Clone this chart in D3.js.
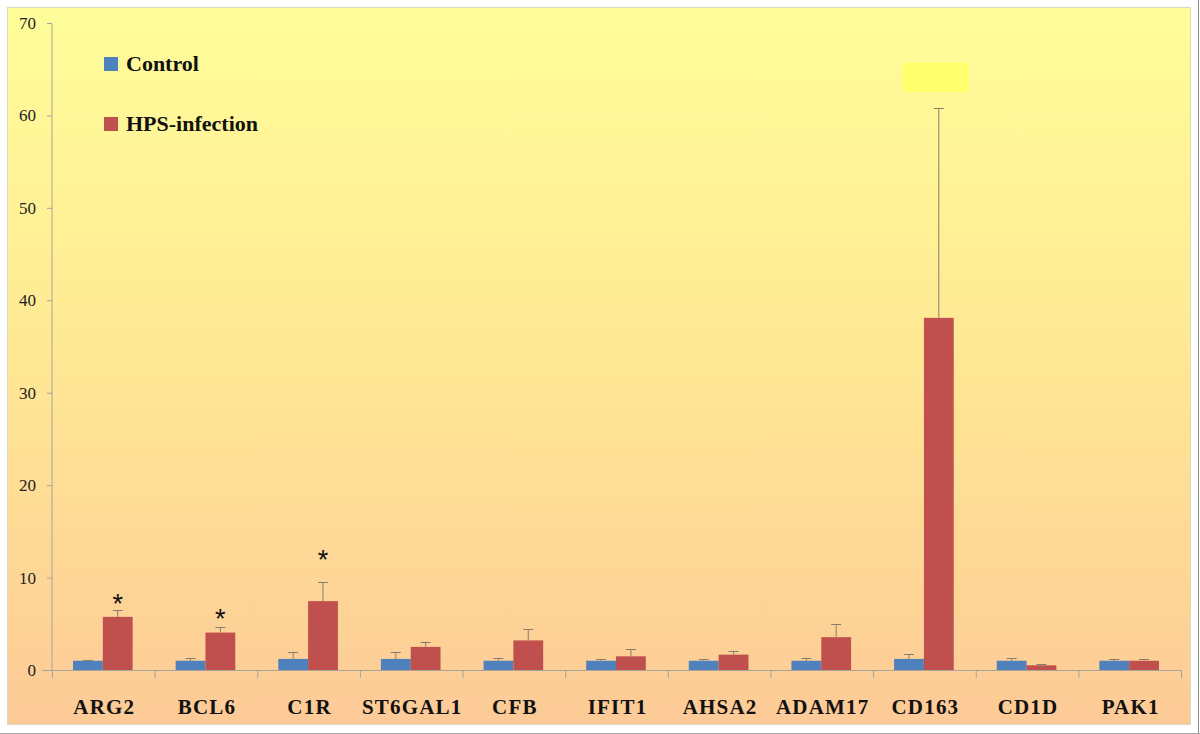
<!DOCTYPE html>
<html>
<head>
<meta charset="utf-8">
<script src="https://cdn.jsdelivr.net/npm/d3@7"></script>
<style>
  html, body { margin: 0; padding: 0; background: #ffffff; }
  svg { display: block; }
</style>
</head>
<body>
<div id="chart"></div>
<script>
// ── Data ─────────────────────────────────────────────────────────────────
const genes = ["ARG2", "BCL6", "C1R", "ST6GAL1", "CFB", "IFIT1", "AHSA2", "ADAM17", "CD163", "CD1D", "PAK1"];
const seriesNames = ["Control", "HPS-infection"];
const controlMean = [1.0, 1.0, 1.2, 1.2, 1.0, 1.0, 1.0, 1.0, 1.2, 1.0, 1.0];
const controlErr = [0.03, 0.3, 0.7, 0.7, 0.33, 0.2, 0.2, 0.33, 0.53, 0.3, 0.2];
const hpsMean = [5.75, 4.05, 7.45, 2.5, 3.2, 1.48, 1.66, 3.55, 38.1, 0.51, 1.0];
const hpsErr = [0.75, 0.55, 2.05, 0.56, 1.2, 0.8, 0.4, 1.4, 22.7, 0.14, 0.2];
// significance asterisks: gene and height (data units)
const sigGenes = ["ARG2", "BCL6", "C1R"];
const sigLevel = [7.6, 5.9, 12.3];
const yTicks = [0, 10, 20, 30, 40, 50, 60, 70];

// ── Dimensions ───────────────────────────────────────────────────────────
const W = 1200, H = 734;
const margin = { top: 23, right: 19, bottom: 64, left: 52 };
const plotW = W - margin.left - margin.right;
const plotH = H - margin.top - margin.bottom;

const svg = d3.select("#chart").append("svg")
  .attr("width", W).attr("height", H);

// ── Background ───────────────────────────────────────────────────────────
const defs = svg.append("defs");
const grad = defs.append("linearGradient")
  .attr("id", "bg").attr("x1", 0).attr("y1", 0).attr("x2", 0).attr("y2", 1);
grad.append("stop").attr("offset", "0%").attr("stop-color", "#fffd9a");
grad.append("stop").attr("offset", "45%").attr("stop-color", "#ffea94");
grad.append("stop").attr("offset", "100%").attr("stop-color", "#fdca97");

svg.append("rect")
  .attr("x", 7.5).attr("y", 7.5).attr("width", 1183).attr("height", 717)
  .attr("fill", "url(#bg)")
  .attr("stroke", "#dcd8bc").attr("stroke-width", 1);

svg.append("line")
  .attr("x1", 1198.5).attr("x2", 1198.5).attr("y1", 0).attr("y2", H)
  .attr("stroke", "#888").attr("stroke-width", 1);
svg.append("line")
  .attr("x1", 0).attr("x2", W).attr("y1", 733.5).attr("y2", 733.5)
  .attr("stroke", "#aaa").attr("stroke-width", 1);

const g = svg.append("g")
  .attr("transform", `translate(${margin.left},${margin.top})`);

// ── Scales ───────────────────────────────────────────────────────────────
const x = d3.scaleBand().domain(genes).range([0, plotW]).paddingInner(0).paddingOuter(0);
const xSub = d3.scaleBand().domain(seriesNames).range([21, x.bandwidth() - 22]).padding(0);
const y = d3.scaleLinear().domain([0, 70]).range([plotH, 0]);
const color = d3.scaleOrdinal().domain(seriesNames).range(["#4f81bd", "#c0504d"]);

// ── Highlight box (over CD163 error bar) ─────────────────────────────────
const hx = x("CD163") + xSub(seriesNames[1]) + xSub.bandwidth() / 2;
g.append("rect")
  .attr("x", hx - 36)
  .attr("y", y(65.7))
  .attr("width", 66)
  .attr("height", y(62.5) - y(65.7))
  .attr("fill", "#ffff66")
  .attr("opacity", 0.9);

// ── Y Axis ───────────────────────────────────────────────────────────────
const yAxis = g.append("g")
  .call(d3.axisLeft(y).tickValues(yTicks).tickSize(5).tickPadding(11).tickFormat(d3.format("d")));
yAxis.select(".domain").attr("stroke", "#a8a49a").attr("d", `M0,${plotH}V0.5`);
yAxis.selectAll(".tick line").attr("stroke", "#a8a49a");
yAxis.selectAll(".tick text")
  .attr("fill", "#222")
  .style("font-family", "'Liberation Serif', 'DejaVu Serif', serif")
  .style("font-size", "17px");

// ── X Axis ───────────────────────────────────────────────────────────────
const xg = g.append("g").attr("transform", `translate(0,${plotH})`);
xg.append("line")
  .attr("x1", -10).attr("x2", plotW).attr("y1", 0.5).attr("y2", 0.5)
  .attr("stroke", "#a8a49a");
xg.selectAll(".sep")
  .data(genes.concat(["__end"]))
  .join("line")
  .attr("class", "sep")
  .attr("x1", (d, i) => i * x.step() + 0.5)
  .attr("x2", (d, i) => i * x.step() + 0.5)
  .attr("y1", 0).attr("y2", 8)
  .attr("stroke", "#a8a49a");
xg.selectAll(".glabel")
  .data(genes)
  .join("text")
  .attr("class", "glabel")
  .attr("x", (d) => x(d) + x.bandwidth() / 2 + 1)
  .attr("y", 44)
  .attr("text-anchor", "middle")
  .attr("fill", "#111")
  .style("font-family", "'Liberation Serif', 'DejaVu Serif', serif")
  .style("font-weight", "700")
  .style("font-size", "21px")
  .style("letter-spacing", "1.2px")
  .text((d) => d);

// ── Bars ─────────────────────────────────────────────────────────────────
const rows = genes.map((gene, i) => ({
  gene,
  vals: [
    { s: seriesNames[0], v: controlMean[i], e: controlErr[i] },
    { s: seriesNames[1], v: hpsMean[i], e: hpsErr[i] },
  ],
}));

const groups = g.selectAll(".grp")
  .data(rows)
  .join("g")
  .attr("class", "grp")
  .attr("transform", (d) => `translate(${x(d.gene)},0)`);

groups.selectAll("rect")
  .data((d) => d.vals)
  .join("rect")
  .attr("x", (d) => xSub(d.s))
  .attr("y", (d) => y(d.v))
  .attr("width", xSub.bandwidth())
  .attr("height", (d) => y(0) - y(d.v))
  .attr("fill", (d) => color(d.s));

// ── Error Bars (upper only) ──────────────────────────────────────────────
const errG = groups.selectAll(".err")
  .data((d) => d.vals)
  .join("g")
  .attr("class", "err")
  .attr("stroke", "#8a7c6c")
  .attr("stroke-width", 1);

errG.append("line")
  .attr("x1", (d) => xSub(d.s) + xSub.bandwidth() / 2)
  .attr("x2", (d) => xSub(d.s) + xSub.bandwidth() / 2)
  .attr("y1", (d) => y(d.v))
  .attr("y2", (d) => y(d.v + d.e));

errG.append("line")
  .attr("x1", (d) => xSub(d.s) + xSub.bandwidth() / 2 - 5)
  .attr("x2", (d) => xSub(d.s) + xSub.bandwidth() / 2 + 5)
  .attr("y1", (d) => Math.round(y(d.v + d.e)) + 0.5)
  .attr("y2", (d) => Math.round(y(d.v + d.e)) + 0.5);

// ── Significance ─────────────────────────────────────────────────────────
g.selectAll(".star")
  .data(sigGenes)
  .join("text")
  .attr("class", "star")
  .attr("x", (d) => x(d) + xSub(seriesNames[1]) + xSub.bandwidth() / 2)
  .attr("y", (d, i) => y(sigLevel[i]) + 13)
  .attr("text-anchor", "middle")
  .attr("fill", "#111")
  .style("font-family", "'Liberation Sans', 'DejaVu Sans', sans-serif")
  .style("font-size", "27px")
  .text("*");

// ── Legend ───────────────────────────────────────────────────────────────
const legend = svg.append("g").attr("transform", "translate(104,57)");
const li = legend.selectAll("g")
  .data(seriesNames)
  .join("g")
  .attr("transform", (d, i) => `translate(0,${i * 60})`);
li.append("rect")
  .attr("width", 14).attr("height", 14)
  .attr("fill", (d) => color(d));
li.append("text")
  .attr("x", 22).attr("y", 14)
  .attr("fill", "#111")
  .style("font-family", "'Liberation Serif', 'DejaVu Serif', serif")
  .style("font-weight", "700")
  .style("font-size", "22px")
  .text((d) => d);
</script>
</body>
</html>
